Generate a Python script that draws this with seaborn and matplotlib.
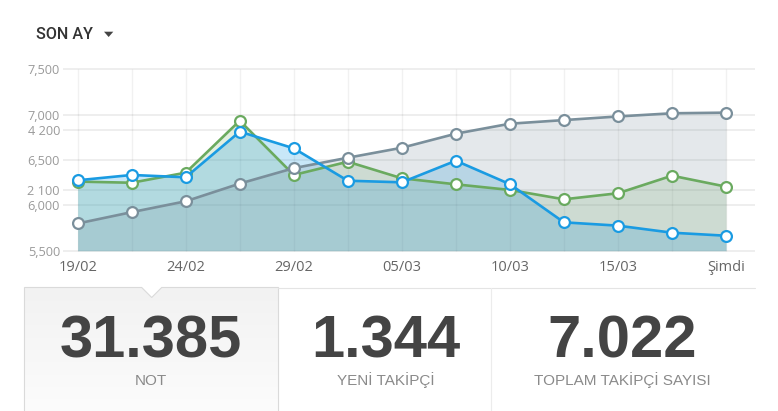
import numpy as np
import pandas as pd
import seaborn as sns
import matplotlib.pyplot as plt
from matplotlib.patches import Polygon
from matplotlib.colors import LinearSegmentedColormap

# chart values
day_labels = ["19/02", "24/02", "29/02", "05/03", "10/03", "15/03", "Şimdi"]
total_followers = [5800, 5925, 6045, 6240, 6410, 6525, 6635, 6790, 6900, 6940, 6980, 7015, 7022]
score = [2400, 2360, 2710, 4515, 2630, 3090, 2515, 2305, 2110, 1785, 1995, 2605, 2225]
new_followers = [2445, 2630, 2550, 4135, 3555, 2430, 2375, 3125, 2310, 985, 870, 625, 520]
total_ticks = [5500, 6000, 6500, 7000, 7500]
small_ticks = [2100, 4200]
small_range = (0, 6300)
summary_values = ["31.385", "1.344", "7.022"]
summary_names = ["NOT", "YENİ TAKİPÇİ", "TOPLAM TAKİPÇİ SAYISI"]

GRAY = "#7a8f9b"
GREEN = "#6aaa5f"
BLUE = "#1a9be2"

df = pd.DataFrame({
    "step": np.arange(len(total_followers)),
    "total": total_followers,
    "score": score,
    "new": new_followers,
})

sns.set_style("white")
plt.rcParams["font.family"] = ["Open Sans", "DejaVu Sans"]

W, H = 778, 411
fig = plt.figure(figsize=(W / 100, H / 100), dpi=100)


def px_box(left, top, right, bottom):
    return [left / W, 1 - bottom / H, (right - left) / W, (bottom - top) / H]


# plot area: gridlines run from y=69.3 to y=250.7 px, axes padded a little
ax = fig.add_axes(px_box(63, 66, 755, 254))
ax2 = ax.twinx()
pad_frac = 3.3 / 181.4

# vertical guides at every point
ax2.vlines(df.step, small_range[0], small_range[1], color="black", alpha=0.055,
           linewidth=1, zorder=0.6)

ax2.fill_between(df.step, df.score, small_range[0], color=GREEN, alpha=0.19,
                 linewidth=0, zorder=1)
ax2.fill_between(df.step, df.new, small_range[0], color=BLUE, alpha=0.24,
                 linewidth=0, zorder=1.1)
ax2.fill_between(df.step, df.total, total_ticks[0], color=GRAY, alpha=0.2,
                 linewidth=0, zorder=1.2, transform=ax.transData)

line_kw = dict(linewidth=1.9, marker="o", markersize=7.8, markerfacecolor="white",
               markeredgewidth=1.6)
sns.lineplot(data=df, x="step", y="score", ax=ax2, color=GREEN,
             markeredgecolor=GREEN, zorder=3, **line_kw)
sns.lineplot(data=df, x="step", y="total", ax=ax2, color=GRAY,
             markeredgecolor=GRAY, zorder=3.5, transform=ax.transData, **line_kw)
sns.lineplot(data=df, x="step", y="new", ax=ax2, color=BLUE,
             markeredgecolor=BLUE, zorder=4, **line_kw)

ax.set_xlim(-0.272, 12.537)
span = total_ticks[-1] - total_ticks[0]
ax.set_ylim(total_ticks[0] - span * pad_frac, total_ticks[-1] + span * pad_frac)
span2 = small_range[1] - small_range[0]
ax2.set_ylim(small_range[0] - span2 * pad_frac, small_range[1] + span2 * pad_frac)

ax.set_xticks(df.step[::2])
ax.set_xticklabels(day_labels)
ax.set_yticks(total_ticks)
ax.set_yticklabels([f"{v:,}" for v in total_ticks])
ax2.set_yticks(small_ticks)
ax2.set_yticklabels([f"{v:,}".replace(",", " ") for v in small_ticks])
ax2.yaxis.tick_left()

for a in (ax, ax2):
    for s in a.spines.values():
        s.set_visible(False)
    a.set_xlabel("")
    a.set_ylabel("")
    a.set_axisbelow(True)
    a.yaxis.grid(True, color="black", alpha=0.075, linewidth=1.3)
    a.xaxis.grid(False)
    a.tick_params(axis="y", length=0, pad=2.2, labelsize=9.2, labelcolor="#9a9a9a")
ax.tick_params(axis="x", length=0, pad=4, labelsize=10.5, labelcolor="#666666")

# header and summary strip
deco = fig.add_axes([0, 0, 1, 1], zorder=-1)
deco.set_xlim(0, W)
deco.set_ylim(H, 0)
deco.axis("off")

deco.text(36.5, 39, "SON AY", family=["Roboto", "DejaVu Sans"], fontweight="medium",
          fontsize=11.6, color="#333333", va="baseline")
deco.add_patch(Polygon([(104, 31.7), (113.3, 31.7), (108.65, 37)], closed=True,
                       color="#444444", linewidth=0))

box_pts = [(24.5, 413), (24.5, 287.5), (141.7, 287.5), (151.7, 297.5),
           (161.7, 287.5), (278.5, 287.5), (278.5, 413)]
box = Polygon(box_pts, closed=True, facecolor="none", edgecolor="none")
deco.add_patch(box)
shade = LinearSegmentedColormap.from_list("shade", ["#f2f2f2", "#fcfcfc"])
im = deco.imshow(np.linspace(0, 1, 64)[:, None], cmap=shade, aspect="auto",
                 extent=[24.5, 278.5, 413, 287.5], origin="upper", zorder=0)
im.set_clip_path(box)
deco.add_patch(Polygon(box_pts, closed=False, fill=False, edgecolor="#dadada",
                       linewidth=0.8, zorder=1))
deco.plot([278.5, 755], [287.5, 287.5], color="#e4e4e4", linewidth=0.8)
deco.plot([491, 491], [287.5, 413], color="#ececec", linewidth=0.8)

centers = [150.5, 386, 622.5]
for cx, val, name in zip(centers, summary_values, summary_names):
    deco.text(cx, 357.5, val, ha="center", va="baseline",
              family=["Liberation Sans", "DejaVu Sans"], fontweight="bold",
              fontsize=43, color="#444444")
    deco.text(cx, 385, name, ha="center", va="baseline",
              family=["Liberation Sans", "DejaVu Sans"], fontsize=11,
              color="#8a8a8a")
deco.set_xlim(0, W)
deco.set_ylim(H, 0)

fig.savefig("out.png", dpi=100)
